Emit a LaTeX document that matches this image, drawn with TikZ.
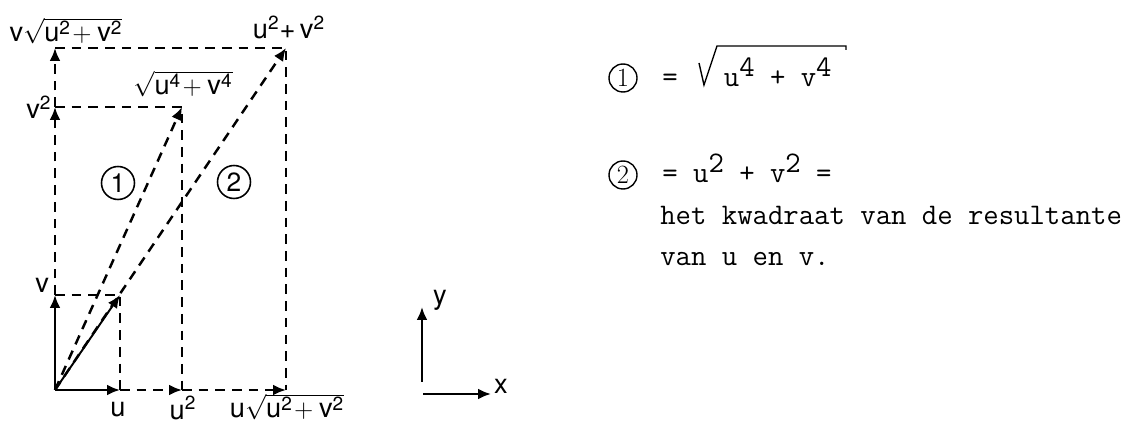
\documentclass[tikz,border=0pt]{standalone}
\usepackage{fontspec}
\setsansfont{TeX Gyre Heros}
\usetikzlibrary{positioning,arrows.meta}
\newcommand{\hi}[1]{\raisebox{.8ex}{#1}}

\begin{document}
\begin{tikzpicture}[
  lbl/.style={font=\fontsize{15.5}{17}\selectfont\sffamily, inner sep=1pt},
  num/.style={circle, draw, line width=0.9pt, minimum size=6.6mm, inner sep=0pt, font=\fontsize{15}{17}\selectfont\sffamily},
  rnum/.style={circle, draw, line width=0.8pt, minimum size=5.6mm, inner sep=0pt, font=\fontsize{15}{17}\selectfont\rmfamily},
  rtext/.style={font=\fontsize{17}{20}\selectfont\ttfamily, inner sep=0pt, anchor=base west},
  vec/.style={-{Latex[length=2.6mm,width=2.2mm]}, line width=1.4pt},
  dvec/.style={vec, dash pattern=on 5.5pt off 4pt},
  guide/.style={line width=1.4pt, dash pattern=on 5.5pt off 4pt}
]
\useasboundingbox (0,0) rectangle (22.92,8.46);
% base points of the construction
\coordinate (O)  at (1.10,0.66);
\coordinate (U)  at (2.40,0.66);
\coordinate (U2) at (3.64,0.66);
\coordinate (UW) at (5.72,0.66);
\coordinate (V)  at (1.10,2.56);
\coordinate (V2) at (1.10,6.32);
\coordinate (VW) at (1.10,7.50);
\coordinate (P1) at (U |- V);
\coordinate (P2) at (U2 |- V2);
\coordinate (P3) at (UW |- VW);
% dashed rectangles
\draw[guide] (V) -- (P1) -- (U);
\draw[guide] (V2) -- (P2) -- (U2);
\draw[guide] (VW) -- (P3) -- (UW);
% vectors
\draw[vec] (O) -- (U);
\draw[vec] (O) -- (V);
\draw[vec, line width=1.1pt] (O) -- (P1);
\draw[dvec] (U) -- (U2); \draw[dvec] (U2) -- (UW);
\draw[dvec] (V) -- (V2); \draw[dvec] (V2) -- (VW);
\draw[dvec] (O) -- (P2);
\draw[dvec] (O) -- (P3);
% labels
\node[lbl] (lu)  at (2.36,0.26) {u};
\node[lbl] (lu2) at (3.66,0.30) {u$^{\mathsf{2}}$};
\node[lbl] (luw) at (5.74,0.32) {u$\sqrt{\mathsf{u}^{\mathsf{2}}\!+\mathsf{v}^{\mathsf{2}}}$};
\node[lbl, left=0.8mm of V, yshift=2mm] (lv) {v};
\node[lbl, left=0.3mm of V2] (lv2) {v$^{\mathsf{2}}$};
\node[lbl, inner sep=0pt, anchor=base] (lvw) at (1.32,7.62) {v$\sqrt{\mathsf{u}^{\mathsf{2}}\!+\mathsf{v}^{\mathsf{2}}}$};
\node[lbl] (lp2) at (3.66,6.78) {$\sqrt{\mathsf{u}^{\mathsf{4}}\!+\mathsf{v}^{\mathsf{4}}}$};
\node[lbl, inner sep=0pt, anchor=base] (lp3) at (5.78,7.68) {u$^{\mathsf{2}}$+\,v$^{\mathsf{2}}$};
\node[num] (c1) at (2.36,4.80) {1};
\node[num] (c2) at (4.68,4.82) {2};
% axes
\coordinate (ay0) at (8.44,0.82);
\coordinate (ax0) at (8.46,0.58);
\node[lbl, inner sep=0pt] (ly) at (8.80,2.46) {y};
\node[lbl, inner sep=0pt] (lx) at (10.02,0.74) {x};
\draw[vec] (ay0) -- (8.44,2.32);
\draw[vec] (ax0) -- (9.82,0.58);
% explanation on the right
\node[rnum] (r1) at (12.46,6.90) {1};
\node[rtext] (eqA) at (13.24,6.72) {=~~~u\hi{4}~+~v\hi{4}};
\draw[line width=0.8pt] (13.98,7.20) -- (14.08,6.76) -- (14.34,7.54) -- (16.92,7.54) -- (16.92,7.46);
\node[rnum] (r2) at (12.46,4.96) {2};
\node[rtext] (eqB) at (13.24,4.80) {=~u\hi{2}~+~v\hi{2}~=};
\node[rtext] (txtA) at (13.20,3.96) {het kwadraat van de resultante};
\node[rtext] (txtB) at (13.20,3.14) {van u en v.};
\end{tikzpicture}
\end{document}
